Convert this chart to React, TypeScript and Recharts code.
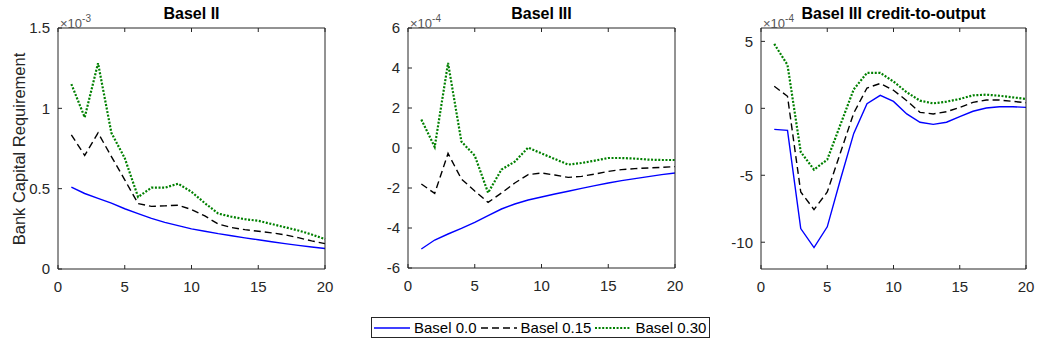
import React, { FC } from "react";
import { Line, LineChart, XAxis, YAxis } from "recharts";

// horizon (quarters after the shock)
const periods = [1, 2, 3, 4, 5, 6, 7, 8, 9, 10, 11, 12, 13, 14, 15, 16, 17, 18, 19, 20];

// Basel II, in units of 1e-3
const basel2Low = [0.51, 0.47, 0.44, 0.41, 0.375, 0.345, 0.315, 0.29, 0.27, 0.25, 0.235, 0.22, 0.207, 0.194, 0.182, 0.17, 0.158, 0.147, 0.137, 0.128];
const basel2Mid = [0.835, 0.707, 0.847, 0.7, 0.555, 0.407, 0.39, 0.393, 0.397, 0.37, 0.33, 0.28, 0.258, 0.245, 0.235, 0.225, 0.213, 0.195, 0.175, 0.158];
const basel2High = [1.151, 0.944, 1.281, 0.847, 0.69, 0.448, 0.506, 0.506, 0.531, 0.48, 0.41, 0.345, 0.325, 0.31, 0.3, 0.28, 0.26, 0.24, 0.215, 0.186];

// Basel III, in units of 1e-4
const basel3Low = [-5.05, -4.6, -4.3, -4.02, -3.72, -3.38, -3.05, -2.8, -2.6, -2.45, -2.3, -2.16, -2.02, -1.88, -1.75, -1.63, -1.53, -1.43, -1.33, -1.25];
const basel3Mid = [-1.8, -2.27, -0.27, -1.55, -2.15, -2.72, -2.25, -1.75, -1.33, -1.25, -1.35, -1.47, -1.42, -1.3, -1.17, -1.08, -1.03, -1.0, -0.97, -0.93];
const basel3High = [1.42, 0.05, 4.25, 0.32, -0.38, -2.24, -1.08, -0.68, 0.02, -0.27, -0.55, -0.83, -0.75, -0.63, -0.5, -0.5, -0.53, -0.58, -0.6, -0.6];

// Basel III credit-to-output, in units of 1e-4
const ctoLow = [-1.57, -1.65, -8.98, -10.4, -8.85, -5.3, -1.87, 0.35, 0.97, 0.52, -0.42, -1.04, -1.2, -1.04, -0.62, -0.22, 0.02, 0.12, 0.12, 0.07];
const ctoMid = [1.65, 0.9, -6.25, -7.56, -6.25, -3.3, -0.35, 1.52, 1.86, 1.35, 0.57, -0.3, -0.42, -0.25, 0.07, 0.45, 0.62, 0.62, 0.52, 0.42];
const ctoHigh = [4.81, 3.24, -3.26, -4.58, -3.83, -1.2, 1.42, 2.65, 2.65, 2.0, 1.2, 0.57, 0.37, 0.5, 0.7, 0.97, 1.02, 0.94, 0.82, 0.7];

const seriesNames = ["Basel 0.0", "Basel 0.15", "Basel 0.30"];
const xTicks = [0, 5, 10, 15, 20];

const FONT = "'Liberation Sans', Arial, sans-serif";
const AXIS = "#262626";

const seriesStyle = [
  { key: "low", stroke: "#0000ff", width: 1.4, dash: undefined },
  { key: "mid", stroke: "#000000", width: 1.4, dash: "7 4" },
  { key: "high", stroke: "#008000", width: 2.2, dash: "2 1.6" },
];

const buildRows = (low: number[], mid: number[], high: number[]) =>
  periods.map((t, i) => ({ t, low: low[i], mid: mid[i], high: high[i] }));

interface IPanelProps {
  plotLeft: number;
  plotWidth: number;
  plotTop: number;
  plotHeight: number;
  title: string;
  exponent: string;
  yDomain: [number, number];
  yTicks: number[];
  rows: { t: number; low: number; mid: number; high: number }[];
}

const AXIS_W = 60;
const RIGHT_PAD = 15;

const Panel: FC<IPanelProps> = ({ plotLeft, plotWidth, plotTop, plotHeight, title, exponent, yDomain, yTicks, rows }) => {
  const chartW = AXIS_W + plotWidth + RIGHT_PAD;
  const chartH = 300;
  const tickStyle = { fill: AXIS, fontSize: 15, fontFamily: FONT };
  const blank = () => "";
  return (
    <>
      <div style={{ position: "absolute", left: plotLeft - AXIS_W, top: 0 }}>
        <LineChart width={chartW} height={chartH} data={rows}
          margin={{ top: plotTop - 1, right: RIGHT_PAD - 1, left: 0, bottom: 0 }}>
          <XAxis dataKey="t" type="number" domain={[0, 20]} ticks={xTicks} height={chartH - plotTop - plotHeight}
            stroke={AXIS} tick={tickStyle} tickSize={-4} tickMargin={16} interval={0} />
          {/* top and right axes close the box, with inward ticks and no labels */}
          <XAxis xAxisId="top" orientation="top" dataKey="t" type="number" domain={[0, 20]} ticks={xTicks} height={1}
            stroke={AXIS} tick={tickStyle} tickFormatter={blank} tickSize={-4} interval={0} />
          <YAxis type="number" domain={yDomain} ticks={yTicks} width={AXIS_W} stroke={AXIS} tick={tickStyle}
            tickSize={-4} tickMargin={12} interval={0} allowDataOverflow />
          <YAxis yAxisId="right" orientation="right" type="number" domain={yDomain} ticks={yTicks} width={1}
            stroke={AXIS} tick={tickStyle} tickFormatter={blank} tickSize={-4} interval={0} />
          {seriesStyle.map((s) => (
            <Line key={s.key} type="linear" dataKey={s.key} stroke={s.stroke} strokeWidth={s.width}
              strokeDasharray={s.dash} dot={false} isAnimationActive={false} />
          ))}
        </LineChart>
      </div>
      <div style={{ position: "absolute", left: plotLeft + 2, top: 11, fontFamily: FONT, fontSize: 13, color: "#555",
        whiteSpace: "nowrap", lineHeight: "15px" }}>
        ×10<sup style={{ fontSize: 10, verticalAlign: "6px" }}>{exponent}</sup>
      </div>
      <div style={{ position: "absolute", left: plotLeft, width: plotWidth, top: 5, textAlign: "center", fontFamily: FONT,
        fontWeight: "bold", fontSize: 16, color: "#000", lineHeight: "18px" }}>
        {title}
      </div>
    </>
  );
};

const LegendBox: FC = () => (
  <div style={{ position: "absolute", left: 371, top: 317, width: 337, height: 19, border: `1px solid ${AXIS}`,
    background: "#fff", display: "flex", alignItems: "center", fontFamily: FONT, fontSize: 15, color: "#000" }}>
    {seriesStyle.map((s, i) => (
      <div key={s.key} style={{ display: "flex", alignItems: "center", marginLeft: i === 0 ? 2 : 4 }}>
        <svg width={36} height={10}>
          <line x1={0} y1={5} x2={36} y2={5} stroke={s.stroke} strokeWidth={s.width} strokeDasharray={s.dash} />
        </svg>
        <span style={{ marginLeft: 4 }}>{seriesNames[i]}</span>
      </div>
    ))}
  </div>
);

const App: FC = () => (
  <div style={{ position: "absolute", left: 0, top: 0, width: 1041, height: 347, background: "#fff", overflow: "hidden" }}>
    <Panel plotLeft={58} plotWidth={267} plotTop={28} plotHeight={241} title="Basel II" exponent="-3"
      yDomain={[0, 1.5]} yTicks={[0, 0.5, 1, 1.5]} rows={buildRows(basel2Low, basel2Mid, basel2High)} />
    <Panel plotLeft={408} plotWidth={267} plotTop={28} plotHeight={240} title="Basel III" exponent="-4"
      yDomain={[-6, 6]} yTicks={[-6, -4, -2, 0, 2, 4, 6]} rows={buildRows(basel3Low, basel3Mid, basel3High)} />
    <Panel plotLeft={761} plotWidth={265} plotTop={28} plotHeight={241} title="Basel III credit-to-output" exponent="-4"
      yDomain={[-12, 6]} yTicks={[-10, -5, 0, 5]} rows={buildRows(ctoLow, ctoMid, ctoHigh)} />
    <svg width={30} height={300} style={{ position: "absolute", left: 4, top: 0 }}>
      <text x={15} y={149} transform="rotate(-90 15 149)" textAnchor="middle" dominantBaseline="central"
        fontFamily={FONT} fontSize={16.5} fill={AXIS}>
        Bank Capital Requirement
      </text>
    </svg>
    <LegendBox />
  </div>
);

export default App;
